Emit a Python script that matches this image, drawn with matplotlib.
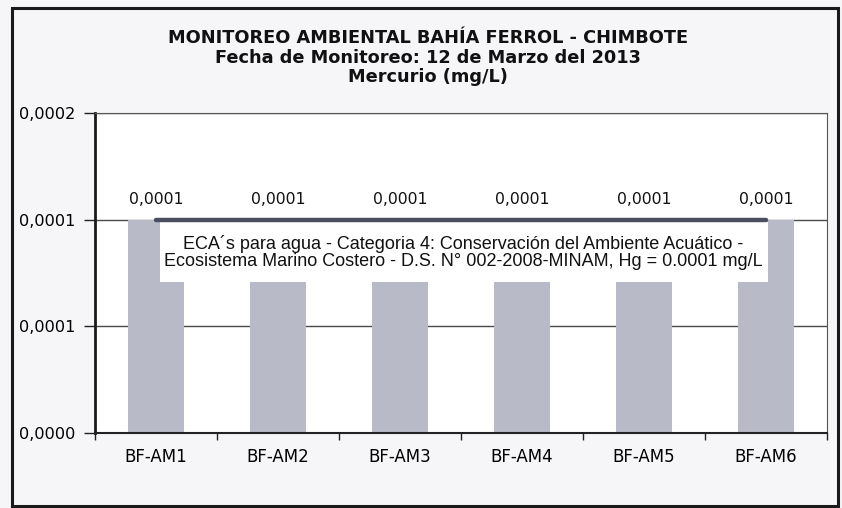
import numpy as np
import matplotlib.pyplot as plt
from matplotlib.patches import Rectangle

# datos
estaciones = ["BF-AM1", "BF-AM2", "BF-AM3", "BF-AM4", "BF-AM5", "BF-AM6"]
mercurio = [0.0001, 0.0001, 0.0001, 0.0001, 0.0001, 0.0001]
eca = [0.0001, 0.0001, 0.0001, 0.0001, 0.0001, 0.0001]
etiquetas = ["0,0001", "0,0001", "0,0001", "0,0001", "0,0001", "0,0001"]
yticks = [0.0, 0.00005, 0.0001, 0.00015]
yticklabels = ["0,0000", "0,0001", "0,0001", "0,0002"]

titulo = ("MONITOREO AMBIENTAL BAHÍA FERROL - CHIMBOTE\n"
          "Fecha de Monitoreo: 12 de Marzo del 2013\n"
          "Mercurio (mg/L)")
nota = ("ECA´s para agua - Categoria 4: Conservación del Ambiente Acuático -\n"
        "Ecosistema Marino Costero - D.S. N° 002-2008-MINAM, Hg = 0.0001 mg/L")

fig = plt.figure(figsize=(8.42, 5.08), dpi=100)
fig.patch.set_facecolor("#f6f6f9")
# marco exterior
fig.patches.append(Rectangle((12/842, 1-506/508), 826/842, 498/508, transform=fig.transFigure,
                             fill=False, edgecolor="#1a1a1a", lw=2.2))

ax = fig.add_axes([95/842, 1-433/508, 732/842, 320/508])
ax.set_facecolor("white")
x = np.arange(len(estaciones))

ax.set_axisbelow(True)
ax.grid(axis="y", color="#4a4a4a", lw=1)
ax.bar(x, mercurio, width=0.46, color="#b9bac8", zorder=2)
ax.plot(x, eca, color="#4b4e60", lw=3.2, solid_capstyle="round", zorder=3)

for xi, v, t in zip(x, mercurio, etiquetas):
    ax.annotate(t, (xi, v), xytext=(0, 9), textcoords="offset points",
                ha="center", va="bottom", fontsize=11.3, family="DejaVu Sans", color="#111")

# cuadro de texto del ECA
ax.add_patch(Rectangle((0.0888, 0.472), 0.8306, 0.1875, transform=ax.transAxes,
                       facecolor="white", edgecolor="none", zorder=2.5))
ax.text(2.52, 0.0000848, nota, ha="center", va="center", fontsize=13,
        family="Liberation Sans", color="#111", linespacing=1.0, zorder=4)

ax.set_xlim(-0.5, len(estaciones) - 0.5)
ax.set_ylim(0, 0.00015)
ax.set_yticks(yticks)
ax.set_yticklabels(yticklabels, fontsize=11.6, family="DejaVu Sans")
ax.set_xticks(x)
ax.set_xticklabels(estaciones, fontsize=12, family="DejaVu Sans")
ax.set_xticks(np.arange(-0.5, len(estaciones)), minor=True)
ax.tick_params(axis="x", which="major", length=0, pad=11)
ax.tick_params(axis="x", which="minor", length=5, width=1, direction="out", color="#222")
ax.tick_params(axis="y", length=8, width=1, color="#222", pad=6)

ax.spines["left"].set_linewidth(2)
ax.spines["left"].set_color("#1a1a1a")
ax.spines["bottom"].set_linewidth(1.5)
ax.spines["bottom"].set_color("#222")
ax.spines["top"].set_color("#555")
ax.spines["right"].set_color("#555")

fig.text(0.508, 1-29/508, titulo, ha="center", va="top", fontsize=12.8,
         fontweight="bold", family="DejaVu Sans", linespacing=1.12, color="#111")

fig.savefig("out.png", dpi=100, facecolor=fig.get_facecolor())
